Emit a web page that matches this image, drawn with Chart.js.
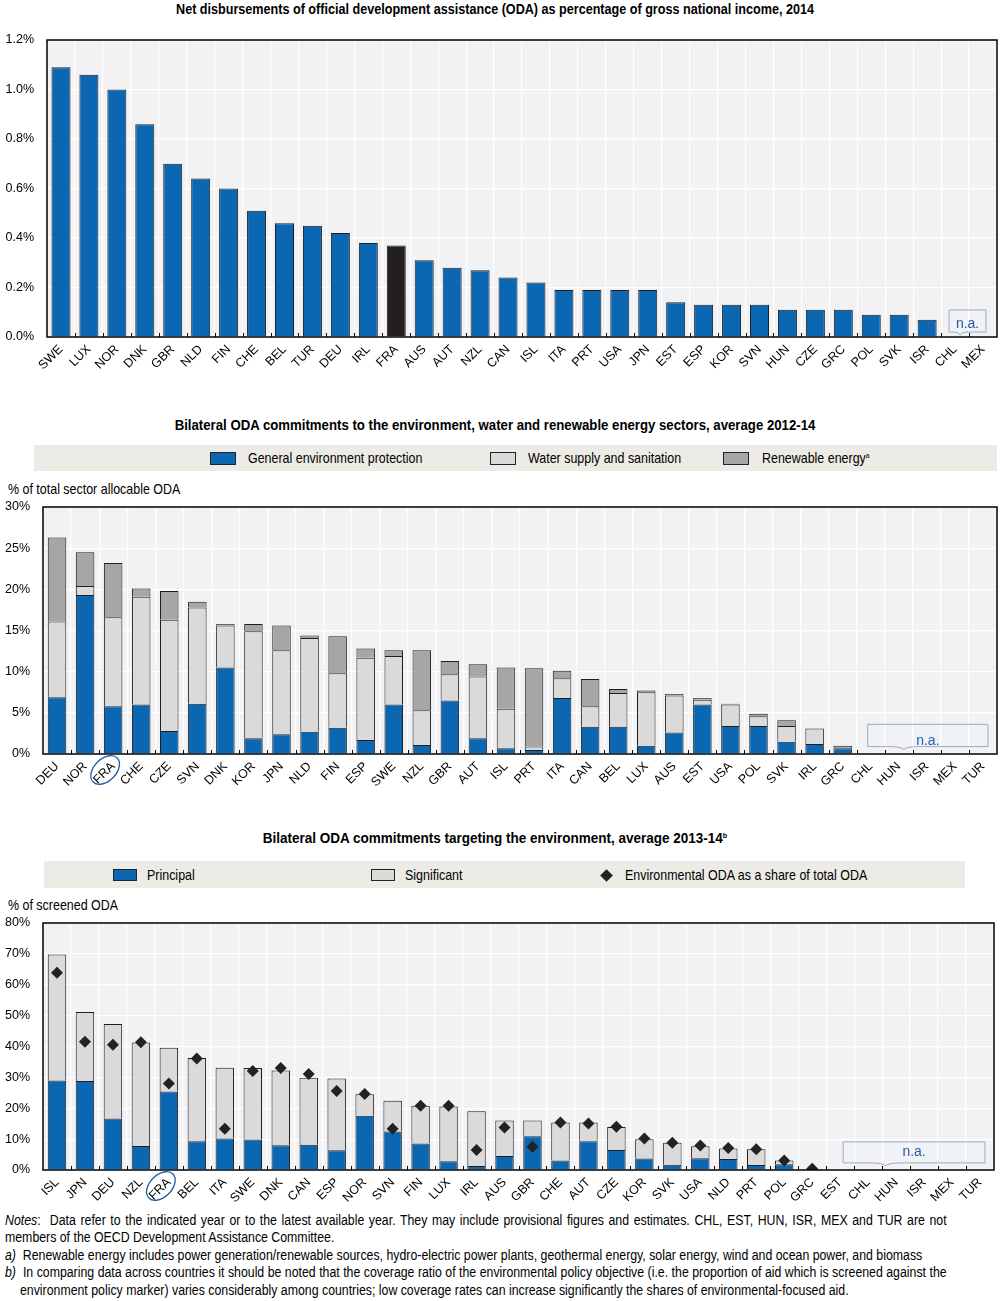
<!DOCTYPE html>
<html>
<head>
<meta charset="utf-8">
<script src="https://cdn.jsdelivr.net/npm/chart.js@4.4.1/dist/chart.umd.min.js"></script>
<style>
  body { margin: 0; background: #fff; width: 1000px; height: 1301px; position: relative; overflow: hidden; color: #000;
         font-family: "Liberation Sans", Arial, sans-serif; }
  .abs { position: absolute; white-space: nowrap; }
  .title { left: 0; width: 990px; text-align: center; font-weight: bold; font-size: 15px; line-height: 18px;
           transform: scaleX(0.84); transform-origin: 495px 0; }
  .band { background: #EDEBE6; }
  .sw { position: absolute; border: 1px solid #222; box-sizing: border-box; }
  .lt { font-size: 15px; line-height: 18px; transform: scaleX(0.83); transform-origin: 0 0; }
  .note { font-size: 14px; line-height: 16px; left: 5px; transform: scaleX(0.88); transform-origin: 0 0; }
  .just { width: 1070px; white-space: normal; text-align: justify; text-align-last: justify; }
  sup { font-size: 8px; vertical-align: 5px; line-height: 0; }
  canvas { position: absolute; left: 0; }
</style>
</head>
<body>

<div class="abs title" style="top:0">Net disbursements of official development assistance (ODA) as percentage of gross national income, 2014</div>
<canvas id="c1" width="1000" height="348" style="top:32px"></canvas>

<div class="abs title" style="top:416px;transform:scaleX(0.88)">Bilateral ODA commitments to the environment, water and renewable energy sectors, average 2012-14</div>
<div class="abs band" style="left:34px;top:445px;width:963px;height:26px"></div>
<div class="sw" style="left:210px;top:452px;width:26px;height:13px;background:#0B67B1"></div>
<div class="abs lt" style="left:248px;top:449px">General environment protection</div>
<div class="sw" style="left:490px;top:452px;width:26px;height:13px;background:#DADADA"></div>
<div class="abs lt" style="left:528px;top:449px">Water supply and sanitation</div>
<div class="sw" style="left:723px;top:452px;width:26px;height:13px;background:#A6A6A6"></div>
<div class="abs lt" style="left:762px;top:449px">Renewable energy<sup>a</sup></div>
<div class="abs lt" style="left:8px;top:480px">% of total sector allocable ODA</div>
<canvas id="c2" width="1000" height="292" style="top:499px"></canvas>

<div class="abs title" style="top:829px;transform:scaleX(0.9)">Bilateral ODA commitments targeting the environment, average 2013-14<sup>b</sup></div>
<div class="abs band" style="left:44px;top:861px;width:921px;height:27px"></div>
<div class="sw" style="left:113px;top:869px;width:24px;height:12px;background:#0B67B1"></div>
<div class="abs lt" style="left:147px;top:866px">Principal</div>
<div class="sw" style="left:371px;top:869px;width:24px;height:12px;background:#DADADA"></div>
<div class="abs lt" style="left:405px;top:866px">Significant</div>
<div class="abs" style="left:602px;top:871px;width:9px;height:9px;background:#222;transform:rotate(45deg)"></div>
<div class="abs lt" style="left:625px;top:866px">Environmental ODA as a share of total ODA</div>
<div class="abs lt" style="left:8px;top:896px">% of screened ODA</div>
<canvas id="c3" width="1000" height="290" style="top:915px"></canvas>

<div class="abs note just" style="top:1212px"><i>Notes</i>:&nbsp; Data refer to the indicated year or to the latest available year. They may include provisional figures and estimates. CHL, EST, HUN, ISR, MEX and TUR are not</div>
<div class="abs note" style="top:1229px">members of the OECD Development Assistance Committee.</div>
<div class="abs note" style="top:1247px"><i>a)</i>&nbsp; Renewable energy includes power generation/renewable sources, hydro-electric power plants, geothermal energy, solar energy, wind and ocean power, and biomass</div>
<div class="abs note just" style="top:1264px"><i>b)</i>&nbsp; In comparing data across countries it should be noted that the coverage ratio of the environmental policy objective (i.e. the proportion of aid which is screened against the</div>
<div class="abs note" style="top:1282px;left:20px">environment policy marker) varies considerably among countries; low coverage rates can increase significantly the shares of environmental-focused aid.</div>

<script>
// ---- data: ODA as % of GNI, 2014 ----
const odaCountries = ['SWE','LUX','NOR','DNK','GBR','NLD','FIN','CHE','BEL','TUR','DEU','IRL','FRA','AUS','AUT','NZL','CAN','ISL','ITA','PRT','USA','JPN','EST','ESP','KOR','SVN','HUN','CZE','GRC','POL','SVK','ISR','CHL','MEX'];
const odaGni = [1.09,1.06,1.00,0.86,0.70,0.64,0.60,0.51,0.46,0.45,0.42,0.38,0.37,0.31,0.28,0.27,0.24,0.22,0.19,0.19,0.19,0.19,0.14,0.13,0.13,0.13,0.11,0.11,0.11,0.09,0.09,0.07,null,null];
const odaTicks = [0, 0.2, 0.4, 0.6, 0.8, 1.0, 1.2];

// ---- data: environment, water, renewable energy sectors, 2012-14 ----
const sectorCountries = ['DEU','NOR','FRA','CHE','CZE','SVN','DNK','KOR','JPN','NLD','FIN','ESP','SWE','NZL','GBR','AUT','ISL','PRT','ITA','CAN','BEL','LUX','AUS','EST','USA','POL','SVK','IRL','GRC','CHL','HUN','ISR','MEX','TUR'];
const envProtection = [6.9,19.3,5.8,6.0,2.8,6.1,10.5,1.9,2.4,2.7,3.2,1.7,6.0,1.1,6.5,1.9,0.7,0.5,6.8,3.3,3.3,1.0,2.6,6.0,3.4,3.4,1.5,1.2,0.7,null,null,null,null,null];
const waterSanitation = [9.2,1.1,10.8,13.1,13.5,11.7,5.1,13.0,10.2,11.4,6.6,10.0,5.9,4.2,3.2,7.5,4.8,0.4,2.4,2.5,4.1,6.5,4.5,0.6,2.6,1.2,1.9,1.9,null,null,null,null,null,null];
const renewableEnergy = [10.2,4.1,6.6,1.0,3.5,0.7,0.2,0.9,3.0,0.3,4.5,1.1,0.7,7.3,1.6,1.5,5.0,9.5,0.9,3.3,0.5,0.2,0.2,0.2,0.1,0.3,0.7,null,0.3,null,null,null,null,null];
const sectorTicks = [0, 5, 10, 15, 20, 25, 30];

// ---- data: ODA targeting the environment, 2013-14 ----
const targetCountries = ['ISL','JPN','DEU','NZL','FRA','BEL','ITA','SWE','DNK','CAN','ESP','NOR','SVN','FIN','LUX','IRL','AUS','GBR','CHE','AUT','CZE','KOR','SVK','USA','NLD','PRT','POL','GRC','EST','CHL','HUN','ISR','MEX','TUR'];
const principal = [29.0,28.8,16.7,7.8,25.4,9.3,10.2,9.9,8.0,8.2,6.4,17.6,12.5,8.6,2.8,1.3,4.5,10.9,3.1,9.3,6.5,3.7,1.7,3.8,3.6,1.6,1.9,0.3,null,null,null,null,null,null];
const significant = [40.8,22.4,30.6,33.5,14.2,27.0,22.9,23.1,24.2,21.7,23.2,6.9,9.9,12.2,17.8,17.7,11.5,5.1,12.3,6.1,7.4,6.3,7.1,3.9,3.4,5.1,1.2,null,null,null,null,null,null,null];
const envShare = [63.9,41.5,40.6,41.4,28.0,36.1,13.4,32.1,33.0,31.1,25.6,24.6,13.4,20.8,20.8,6.5,13.8,7.5,15.4,15.1,14.0,10.2,8.8,7.9,7.1,6.7,3.1,0.4,null,null,null,null,null,null];
const targetTicks = [0, 10, 20, 30, 40, 50, 60, 70, 80];

// colours
const BLUE = '#0B67B1';
const FRA_DARK = '#231F20';
const LIGHT = '#DADADA';
const MID = '#A6A6A6';
const EDGE = '#1E1E1E';
const NA_BLUE = '#1F5FA8';
const FONT = '"Liberation Sans", Arial, sans-serif';
const TICK_SIZE = 12.5;

Chart.defaults.font.family = FONT;
Chart.defaults.color = '#000';

// background, frame, upward ticks, n.a. box and FRA circle
const decorPlugin = {
    id: 'decor',
    beforeDraw(chart) {
        const a = chart.chartArea, ctx = chart.ctx;
        ctx.save();
        ctx.fillStyle = '#F2F2F4';
        ctx.fillRect(a.left, a.top, a.right - a.left, a.bottom - a.top);
        ctx.restore();
    },
    afterDatasetsDraw(chart, args, opts) {
        const a = chart.chartArea, ctx = chart.ctx;
        const x = chart.scales.x, y = chart.scales.y;
        const n = chart.data.labels.length;
        const step = (a.right - a.left) / n;
        ctx.save();
        // n.a. box
        if (opts.na) {
            const na = opts.na;
            const l = x.getPixelForValue(na.first) + na.dl;
            const r = x.getPixelForValue(na.last) + na.dr;
            const t = y.getPixelForValue(na.top);
            const b = y.getPixelForValue(na.bottom);
            const nx = l + (r - l) * 0.3, hw = Math.min(16, (r - l) * 0.15);
            ctx.strokeStyle = '#8EAFD0';
            ctx.lineWidth = 1;
            ctx.beginPath();
            ctx.moveTo(nx - hw, b);
            ctx.lineTo(l, b);
            ctx.lineTo(l, t);
            ctx.lineTo(r, t);
            ctx.lineTo(r, b);
            ctx.lineTo(nx + hw, b);
            ctx.quadraticCurveTo(nx + 2, b, nx, b + 3);
            ctx.quadraticCurveTo(nx - 2, b, nx - hw, b);
            ctx.stroke();
            ctx.fillStyle = NA_BLUE;
            ctx.font = `14px ${FONT}`;
            ctx.textAlign = 'center';
            ctx.textBaseline = 'middle';
            ctx.fillText('n.a.', (l + r) / 2, na.textY != null ? y.getPixelForValue(na.textY) : (t + b) / 2);
        }
        // small upward ticks between categories
        ctx.strokeStyle = '#000';
        ctx.lineWidth = 1;
        for (let i = 1; i < n; i++) {
            const px = Math.round(a.left + step * i) + 0.5;
            ctx.beginPath();
            ctx.moveTo(px, a.bottom);
            ctx.lineTo(px, a.bottom - 4);
            ctx.stroke();
        }
        // frame
        ctx.lineWidth = 1.5;
        ctx.strokeStyle = '#000';
        ctx.strokeRect(a.left, a.top, a.right - a.left, a.bottom - a.top);
        // circle round FRA label
        if (opts.circle) {
            const cx = x.getPixelForValue(chart.data.labels.indexOf(opts.circle)) - 8;
            const cy = a.bottom + 16;
            ctx.strokeStyle = NA_BLUE;
            ctx.lineWidth = 1.3;
            ctx.beginPath();
            ctx.ellipse(cx, cy, 17, 11, -Math.PI / 4, 0, Math.PI * 2);
            ctx.stroke();
        }
        ctx.restore();
    }
};

function baseScales(ticks, fmt, yWidth, xHeight, pad) {
    return {
        x: {
            stacked: true,
            grid: { color: '#FFFFFF', lineWidth: 1.2, drawTicks: false },
            border: { display: false },
            ticks: { autoSkip: false, maxRotation: 45, minRotation: 45, padding: 5, font: { size: TICK_SIZE } },
            afterFit(s) { s.height = xHeight; }
        },
        y: {
            stacked: true,
            min: ticks[0],
            max: ticks[ticks.length - 1],
            afterBuildTicks(s) { s.ticks = ticks.map(v => ({ value: v })); },
            grid: { color: '#FFFFFF', lineWidth: 1.2, drawTicks: false },
            border: { display: false },
            ticks: { padding: pad, font: { size: TICK_SIZE }, callback: fmt },
            afterFit(s) { s.width = yWidth; s.paddingTop = 0; s.paddingBottom = 0; }
        }
    };
}

// chart 1
new Chart(document.getElementById('c1'), {
    type: 'bar',
    data: {
        labels: odaCountries,
        datasets: [{
            data: odaGni,
            backgroundColor: odaCountries.map(c => c === 'FRA' ? FRA_DARK : BLUE),
            borderColor: EDGE,
            borderWidth: 1,
            barPercentage: 0.68,
            categoryPercentage: 1
        }]
    },
    options: {
        responsive: false,
        animation: false,
        layout: { padding: { top: 8, right: 3, left: 0, bottom: 0 } },
        plugins: {
            legend: { display: false },
            tooltip: { enabled: false },
            decor: { na: { first: 32, last: 33, dl: -6, dr: 3, top: 0.109, bottom: 0.02, textY: 0.05 } }
        },
        scales: baseScales(odaTicks, v => v.toFixed(1) + '%', 47, 43, 13)
    },
    plugins: [decorPlugin]
});

// chart 2
new Chart(document.getElementById('c2'), {
    type: 'bar',
    data: {
        labels: sectorCountries,
        datasets: [
            { label: 'General environment protection', data: envProtection, backgroundColor: BLUE },
            { label: 'Water supply and sanitation', data: waterSanitation, backgroundColor: LIGHT },
            { label: 'Renewable energy', data: renewableEnergy, backgroundColor: MID }
        ].map(d => Object.assign(d, { borderColor: EDGE, borderWidth: 1, barPercentage: 0.66, categoryPercentage: 1 }))
    },
    options: {
        responsive: false,
        animation: false,
        layout: { padding: { top: 8, right: 3, left: 0, bottom: 0 } },
        plugins: {
            legend: { display: false },
            tooltip: { enabled: false },
            decor: { na: { first: 29, last: 33, dl: -3, dr: 5, top: 3.6, bottom: 0.9, textY: 1.6 }, circle: 'FRA' }
        },
        scales: baseScales(sectorTicks, v => v + '%', 43, 37, 13)
    },
    plugins: [decorPlugin]
});

// chart 3
new Chart(document.getElementById('c3'), {
    type: 'bar',
    data: {
        labels: targetCountries,
        datasets: [
            { type: 'line', label: 'Environmental ODA as a share of total ODA', data: envShare, stack: 'share', order: 0,
              showLine: false, pointStyle: 'rectRot', pointRadius: 6, backgroundColor: '#222', borderColor: '#222', borderWidth: 0 },
            { label: 'Principal', data: principal, backgroundColor: BLUE, stack: 'env', order: 1,
              borderColor: EDGE, borderWidth: 1, barPercentage: 0.66, categoryPercentage: 1 },
            { label: 'Significant', data: significant, backgroundColor: LIGHT, stack: 'env', order: 1,
              borderColor: EDGE, borderWidth: 1, barPercentage: 0.66, categoryPercentage: 1 }
        ]
    },
    options: {
        responsive: false,
        animation: false,
        layout: { padding: { top: 8, right: 3, left: 0, bottom: 0 } },
        plugins: {
            legend: { display: false },
            tooltip: { enabled: false },
            decor: { na: { first: 28, last: 33, dl: 3, dr: 5, top: 9.1, bottom: 2.3 }, circle: 'FRA' }
        },
        scales: baseScales(targetTicks, v => v + '%', 43, 35, 13)
    },
    plugins: [decorPlugin]
});
</script>
</body>
</html>
